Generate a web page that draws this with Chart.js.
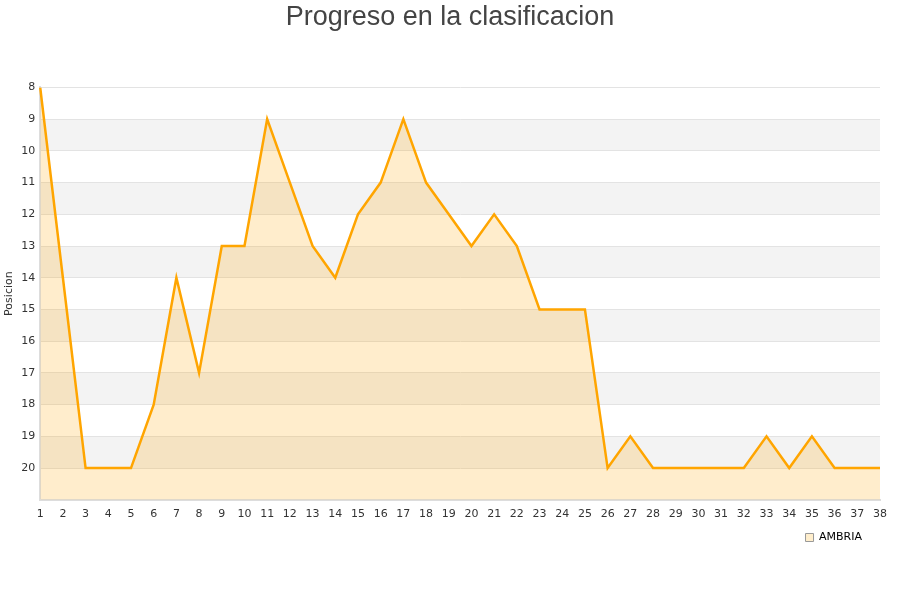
<!DOCTYPE html>
<html>
<head>
<meta charset="utf-8">
<script src="https://cdn.jsdelivr.net/npm/chart.js@4/dist/chart.umd.min.js"></script>
<style>
  body { margin: 0; background: #fff; }
  #wrap { width: 900px; height: 600px; }
</style>
</head>
<body>
<div id="wrap"><canvas id="chart"></canvas></div>
<script>
// Jornadas y posiciones
const jornadas = ['1','2','3','4','5','6','7','8','9','10','11','12','13','14','15','16','17','18','19','20',
  '21','22','23','24','25','26','27','28','29','30','31','32','33','34','35','36','37','38'];
const posiciones = [8, 14, 20, 20, 20, 18, 14, 17, 13, 13, 9, 11, 13, 14, 12, 11, 9, 11, 12, 13,
  12, 13, 15, 15, 15, 20, 19, 20, 20, 20, 20, 20, 19, 20, 19, 20, 20, 20];
const equipo = 'AMBRIA';

// striped background rows
const bandas = {
  id: 'bandas',
  beforeDraw(chart) {
    const ctx = chart.ctx, area = chart.chartArea, y = chart.scales.y;
    ctx.save();
    ctx.fillStyle = '#f3f3f3';
    for (let v = 9; v < 21; v += 2) {
      const top = y.getPixelForValue(v);
      const bot = y.getPixelForValue(v + 1);
      ctx.fillRect(area.left, top, area.right - area.left, bot - top);
    }
    ctx.restore();
  }
};

// nudge title to page centre and legend a bit left
const ajuste = {
  id: 'ajuste',
  afterLayout(chart) {
    chart.titleBlock.left += 10;
    chart.titleBlock.right += 10;
    chart.legend.left -= 15;
    chart.legend.right -= 15;
  }
};

new Chart(document.getElementById('chart'), {
  type: 'line',
  data: {
    labels: jornadas,
    datasets: [{
      label: equipo,
      data: posiciones,
      borderColor: '#ffa500',
      backgroundColor: 'rgba(255,165,0,0.2)',
      borderWidth: 2.5,
      pointRadius: 0,
      tension: 0,
      fill: { value: 21 }
    }]
  },
  options: {
    responsive: true,
    maintainAspectRatio: false,
    animation: false,
    layout: { padding: { left: 0, right: 20, top: 0, bottom: 47 } },
    plugins: {
      title: {
        display: true,
        text: 'Progreso en la clasificacion',
        color: '#444',
        font: { family: 'Liberation Sans', size: 27, weight: 'normal' },
        padding: { top: 1, bottom: 54 }
      },
      legend: {
        position: 'bottom',
        align: 'end',
        labels: {
          color: '#222',
          font: { family: 'DejaVu Sans', size: 11 },
          boxWidth: 8,
          boxHeight: 8,
          padding: 3,
          generateLabels(chart) {
            return [{
              text: equipo,
              fillStyle: '#ffeecc',
              strokeStyle: '#999',
              lineWidth: 1,
              datasetIndex: 0
            }];
          }
        }
      },
      tooltip: { enabled: false }
    },
    scales: {
      x: {
        offset: false,
        grid: { display: false, drawTicks: false },
        border: { color: '#ddd', width: 2 },
        ticks: {
          color: '#333',
          font: { family: 'DejaVu Sans', size: 11 },
          maxRotation: 0,
          autoSkip: false,
          padding: 8
        }
      },
      y: {
        reverse: true,
        min: 8,
        max: 21,
        title: {
          display: true,
          text: 'Posicion',
          color: '#333',
          font: { family: 'DejaVu Sans', size: 11 },
          padding: { top: 3, bottom: 0 }
        },
        grid: { color: '#e3e3e3', drawTicks: false },
        border: { color: '#ddd', width: 2 },
        ticks: {
          stepSize: 1,
          color: '#333',
          font: { family: 'DejaVu Sans', size: 11 },
          padding: 5,
          callback: v => (v === 21 ? '' : v)
        }
      }
    }
  },
  plugins: [bandas, ajuste]
});
</script>
</body>
</html>
